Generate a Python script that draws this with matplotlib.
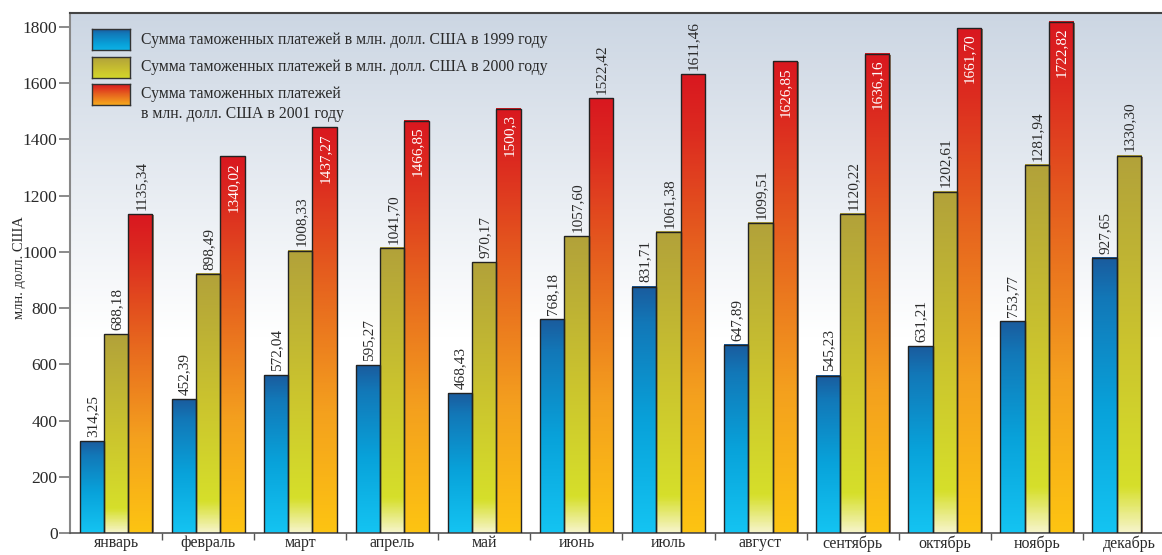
import numpy as np
import matplotlib
matplotlib.use("Agg")
import matplotlib.pyplot as plt
from matplotlib.colors import LinearSegmentedColormap
from matplotlib.patches import Rectangle
from matplotlib.transforms import offset_copy

plt.rcParams['font.family'] = ['Liberation Serif', 'DejaVu Serif']

months = ['январь', 'февраль', 'март', 'апрель', 'май', 'июнь', 'июль',
          'август', 'сентябрь', 'октябрь', 'ноябрь', 'декабрь']

# высоты столбцов, как они нарисованы в оригинале
h1999 = [327, 476, 561, 597, 497, 760, 876, 669, 560, 664, 753, 978]
h2000 = [707, 921, 1004, 1014, 963, 1055, 1071, 1103, 1135, 1214, 1309, 1342]
h2001 = [1134, 1339, 1442, 1466, 1508, 1546, 1632, 1677, 1704, 1795, 1818]

# подписи значений
lab1999 = ['314,25', '452,39', '572,04', '595,27', '468,43', '768,18',
           '831,71', '647,89', '545,23', '631,21', '753,77', '927,65']
lab2000 = ['688,18', '898,49', '1008,33', '1041,70', '970,17', '1057,60',
           '1061,38', '1099,51', '1120,22', '1202,61', '1281,94', '1330,30']
lab2001 = ['1135,34', '1340,02', '1437,27', '1466,85', '1500,3', '1522,42',
           '1611,46', '1626,85', '1636,16', '1661,70', '1722,82']
inside2001 = [False, True, True, True, True, False, False, True, True, True, True]

legend_labels = ['Сумма таможенных платежей в млн. долл. США в 1999 году',
                 'Сумма таможенных платежей в млн. долл. США в 2000 году',
                 'Сумма таможенных платежей\nв млн. долл. США в 2001 году']

cm_blue = LinearSegmentedColormap.from_list('b', [(0, '#14c4f2'), (0.45, '#08a2da'),
                                                 (0.85, '#1278b8'), (1, '#1a5c9e')])
cm_olive = LinearSegmentedColormap.from_list('o', [(0, '#f6f4c8'), (0.12, '#d6df2a'),
                                                  (0.5, '#cbc42e'), (1, '#b2a23a')])
cm_red = LinearSegmentedColormap.from_list('r', [(0, '#fdc412'), (0.3, '#f4a01e'),
                                                (0.62, '#e6621e'), (0.88, '#dc2a20'),
                                                (1, '#d9181f')])

fig = plt.figure(figsize=(11.62, 5.55), dpi=100)
ax = fig.add_axes([70/1162, 22/555, 1 - 70/1162, 520/555])
ax.set_xlim(0, 11.86)
ax.set_ylim(0, 1849)

# фон с градиентом
bg = np.linspace(0, 1, 256)
top = np.array([0.80, 0.84, 0.89])
frac = np.clip((bg - 0.38) / 0.62, 0, 1)[:, None]
bgimg = 1 - frac * (1 - top)
ax.imshow(bgimg[:, None, :], extent=(0, 1, 0, 1), transform=ax.transAxes,
          origin='lower', aspect='auto', zorder=0)

w = 0.264
shadow_tr = offset_copy(ax.transData, fig=fig, x=1.5, y=-1, units='dots')
grad = np.linspace(0, 1, 200)


def bar(x, h, cmap):
    ax.add_patch(Rectangle((x - w/2, 0), w, h, facecolor='#6b4a2a', alpha=0.7,
                           edgecolor='none', transform=shadow_tr, zorder=1.5))
    ax.imshow(cmap(grad)[:, None, :], extent=(x - w/2, x + w/2, 0, h),
              origin='lower', aspect='auto', zorder=2, interpolation='bilinear')
    ax.add_patch(Rectangle((x - w/2, 0), w, h, fill=False, edgecolor='#222222',
                           linewidth=1.0, zorder=3))


def label(x, h, s, inside=False):
    if inside:
        ax.annotate(s, (x, h), xytext=(0.5, -4), textcoords='offset points',
                    rotation=90, ha='center', va='top', color='white',
                    fontsize=11, zorder=4)
    else:
        ax.annotate(s, (x, h), xytext=(0.5, 3), textcoords='offset points',
                    rotation=90, ha='center', va='bottom', color='#2a2a2a',
                    fontsize=11, zorder=4)


for i in range(len(months)):
    c = i + 0.5
    bar(c - w, h1999[i], cm_blue)
    label(c - w, h1999[i], lab1999[i])
    bar(c, h2000[i], cm_olive)
    label(c, h2000[i], lab2000[i])
    if i < len(h2001):
        bar(c + w, h2001[i], cm_red)
        label(c + w, h2001[i], lab2001[i], inside2001[i])

ax.set_xticks(np.arange(len(months)) + 0.5)
ax.set_xticklabels(months, fontsize=11.5, color='#2a2a2a')
ax.set_xticks(np.arange(1, 12), minor=True)
ax.tick_params(axis='x', which='major', length=0, pad=1.5)
ax.tick_params(axis='x', which='minor', length=5, color='#555555', width=1)
ax.set_yticks(np.arange(0, 1801, 200))
ax.tick_params(axis='y', length=8, color='#777777', width=1.2, labelsize=12.5,
               labelcolor='#2a2a2a', pad=1)
ax.set_ylabel('млн. долл. США', fontsize=10.5, color='#2a2a2a')
ax.yaxis.set_label_coords(-0.04, 0.51)

ax.spines['right'].set_visible(False)
ax.spines['top'].set_color('#444444')
ax.spines['top'].set_linewidth(1.5)
ax.spines['left'].set_color('#888888')
ax.spines['left'].set_linewidth(1.5)
ax.spines['bottom'].set_color('#555555')
ax.spines['bottom'].set_linewidth(1.2)

# легенда
sw_cmaps = [cm_blue, cm_olive, cm_red]
sw_y = [29, 57, 84]
sw_ty = [40, 67, 104]
for cmap, y0, ty, txt in zip(sw_cmaps, sw_y, sw_ty, legend_labels):
    sax = fig.add_axes([92/1162, 1 - (y0 + 21)/555, 38/1162, 21/555])
    sax.imshow(cmap(np.linspace(0.25, 1, 50))[:, None, :], origin='lower',
               aspect='auto', extent=(0, 1, 0, 1))
    sax.set_xticks([])
    sax.set_yticks([])
    for sp in sax.spines.values():
        sp.set_color('#333333')
        sp.set_linewidth(1)
    fig.text(141/1162, 1 - ty/555, txt, fontsize=11.3, color='#2a2a2a',
             va='center', ha='left', linespacing=1.3)

fig.savefig('out.png', dpi=100)
